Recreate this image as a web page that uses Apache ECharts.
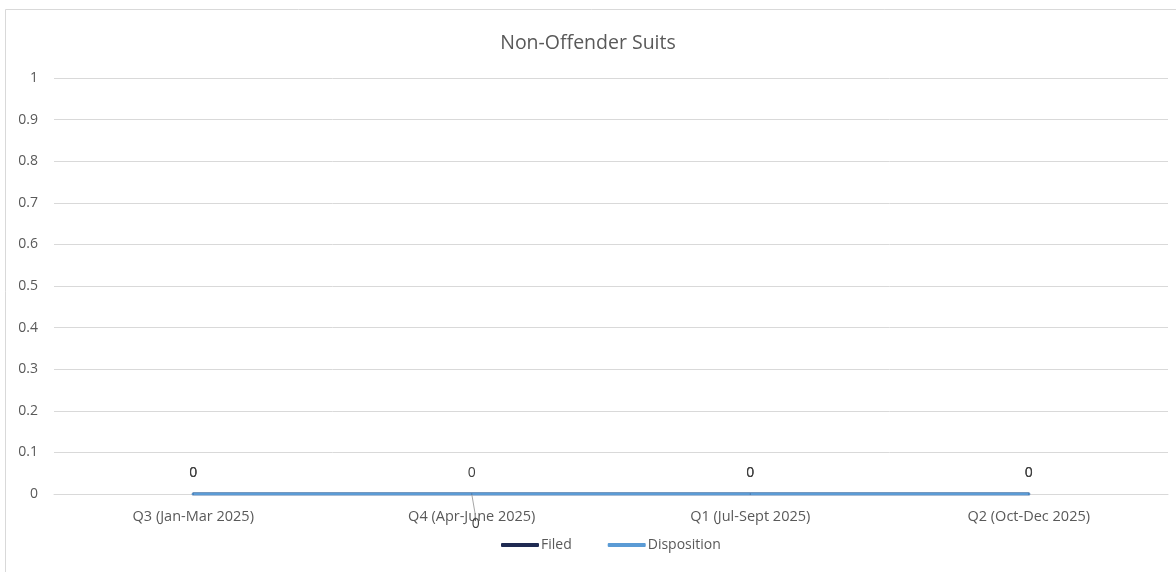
<!DOCTYPE html>
<html>
<head>
<meta charset="utf-8">
<script src="https://cdn.jsdelivr.net/npm/echarts@6/dist/echarts.min.js"></script>
<style>
html,body{margin:0;padding:0;background:#fff;}
#c{width:1176px;height:572px;}
</style>
</head>
<body>
<div id="c"></div>
<script>
const categories = ['Q3 (Jan-Mar 2025)', 'Q4 (Apr-June 2025)', 'Q1 (Jul-Sept 2025)', 'Q2 (Oct-Dec 2025)'];
const filed = [0, 0, 0, 0];
const disposition = [0, 0, 0, 0];
const titleText = 'Non-Offender Suits';

const font = '"Open Sans", "Liberation Sans", Arial, sans-serif';
const chart = echarts.init(document.getElementById('c'));
chart.setOption({
  animation: false,
  backgroundColor: '#fff',
  graphic: [{
    type: 'rect', silent: true, z: -1,
    shape: {x: 5.5, y: 9.5, width: 1180, height: 580},
    style: {fill: 'none', stroke: '#D9D9D9', lineWidth: 1}
  }],
  title: {
    text: titleText, left: 'center', top: 28,
    textStyle: {fontFamily: font, fontSize: 19.5, fontWeight: 'normal', color: '#595959'}
  },
  legend: {
    top: 533, left: 496, itemGap: 36, itemWidth: 38, itemHeight: 4,
    icon: 'roundRect',
    textStyle: {fontFamily: font, fontSize: 14, color: '#595959', padding: [0,0,0,-3]},
    data: ['Filed', 'Disposition']
  },
  grid: {left: 54, right: 8, top: 78, bottom: 78, containLabel: false},
  xAxis: {
    type: 'category', data: categories, boundaryGap: true,
    axisLine: {show: true, lineStyle: {color: '#D9D9D9'}},
    axisTick: {show: false},
    axisLabel: {fontFamily: font, fontSize: 14.5, color: '#595959', margin: 15}
  },
  yAxis: {
    type: 'value', min: 0, max: 1, interval: 0.1,
    axisLine: {show: false}, axisTick: {show: false},
    splitLine: {lineStyle: {color: '#D9D9D9'}},
    axisLabel: {fontFamily: font, fontSize: 14, color: '#595959', margin: 16,
      formatter: v => String(Math.round(v*10)/10)}
  },
  series: [
    {
      name: 'Filed', type: 'line', data: filed,
      symbol: 'circle', symbolSize: 1,
      lineStyle: {color: '#1F2A52', width: 3, cap: 'round'},
      itemStyle: {color: '#1F2A52'},
      label: {show: true, position: 'top', distance: 13, fontFamily: font, fontSize: 14, color: '#404040'}
    },
    {
      name: 'Disposition', type: 'line',
      data: disposition.map((v, i) => i === 1 ? {value: v, labelLine: {show: true}} : {value: v}),
      symbol: 'circle', symbolSize: 1,
      lineStyle: {color: '#5B9BD5', width: 3, cap: 'round'},
      itemStyle: {color: '#5B9BD5'},
      label: {show: true, position: 'top', distance: 13, fontFamily: font, fontSize: 14, color: '#404040'},
      labelLine: {show: false, lineStyle: {color: '#A6A6A6', width: 1}},
      labelLayout: function (p) {
        if (p.dataIndex === 1) return {dx: 4, dy: 51};
        return {};
      }
    }
  ]
});
</script>
</body>
</html>
